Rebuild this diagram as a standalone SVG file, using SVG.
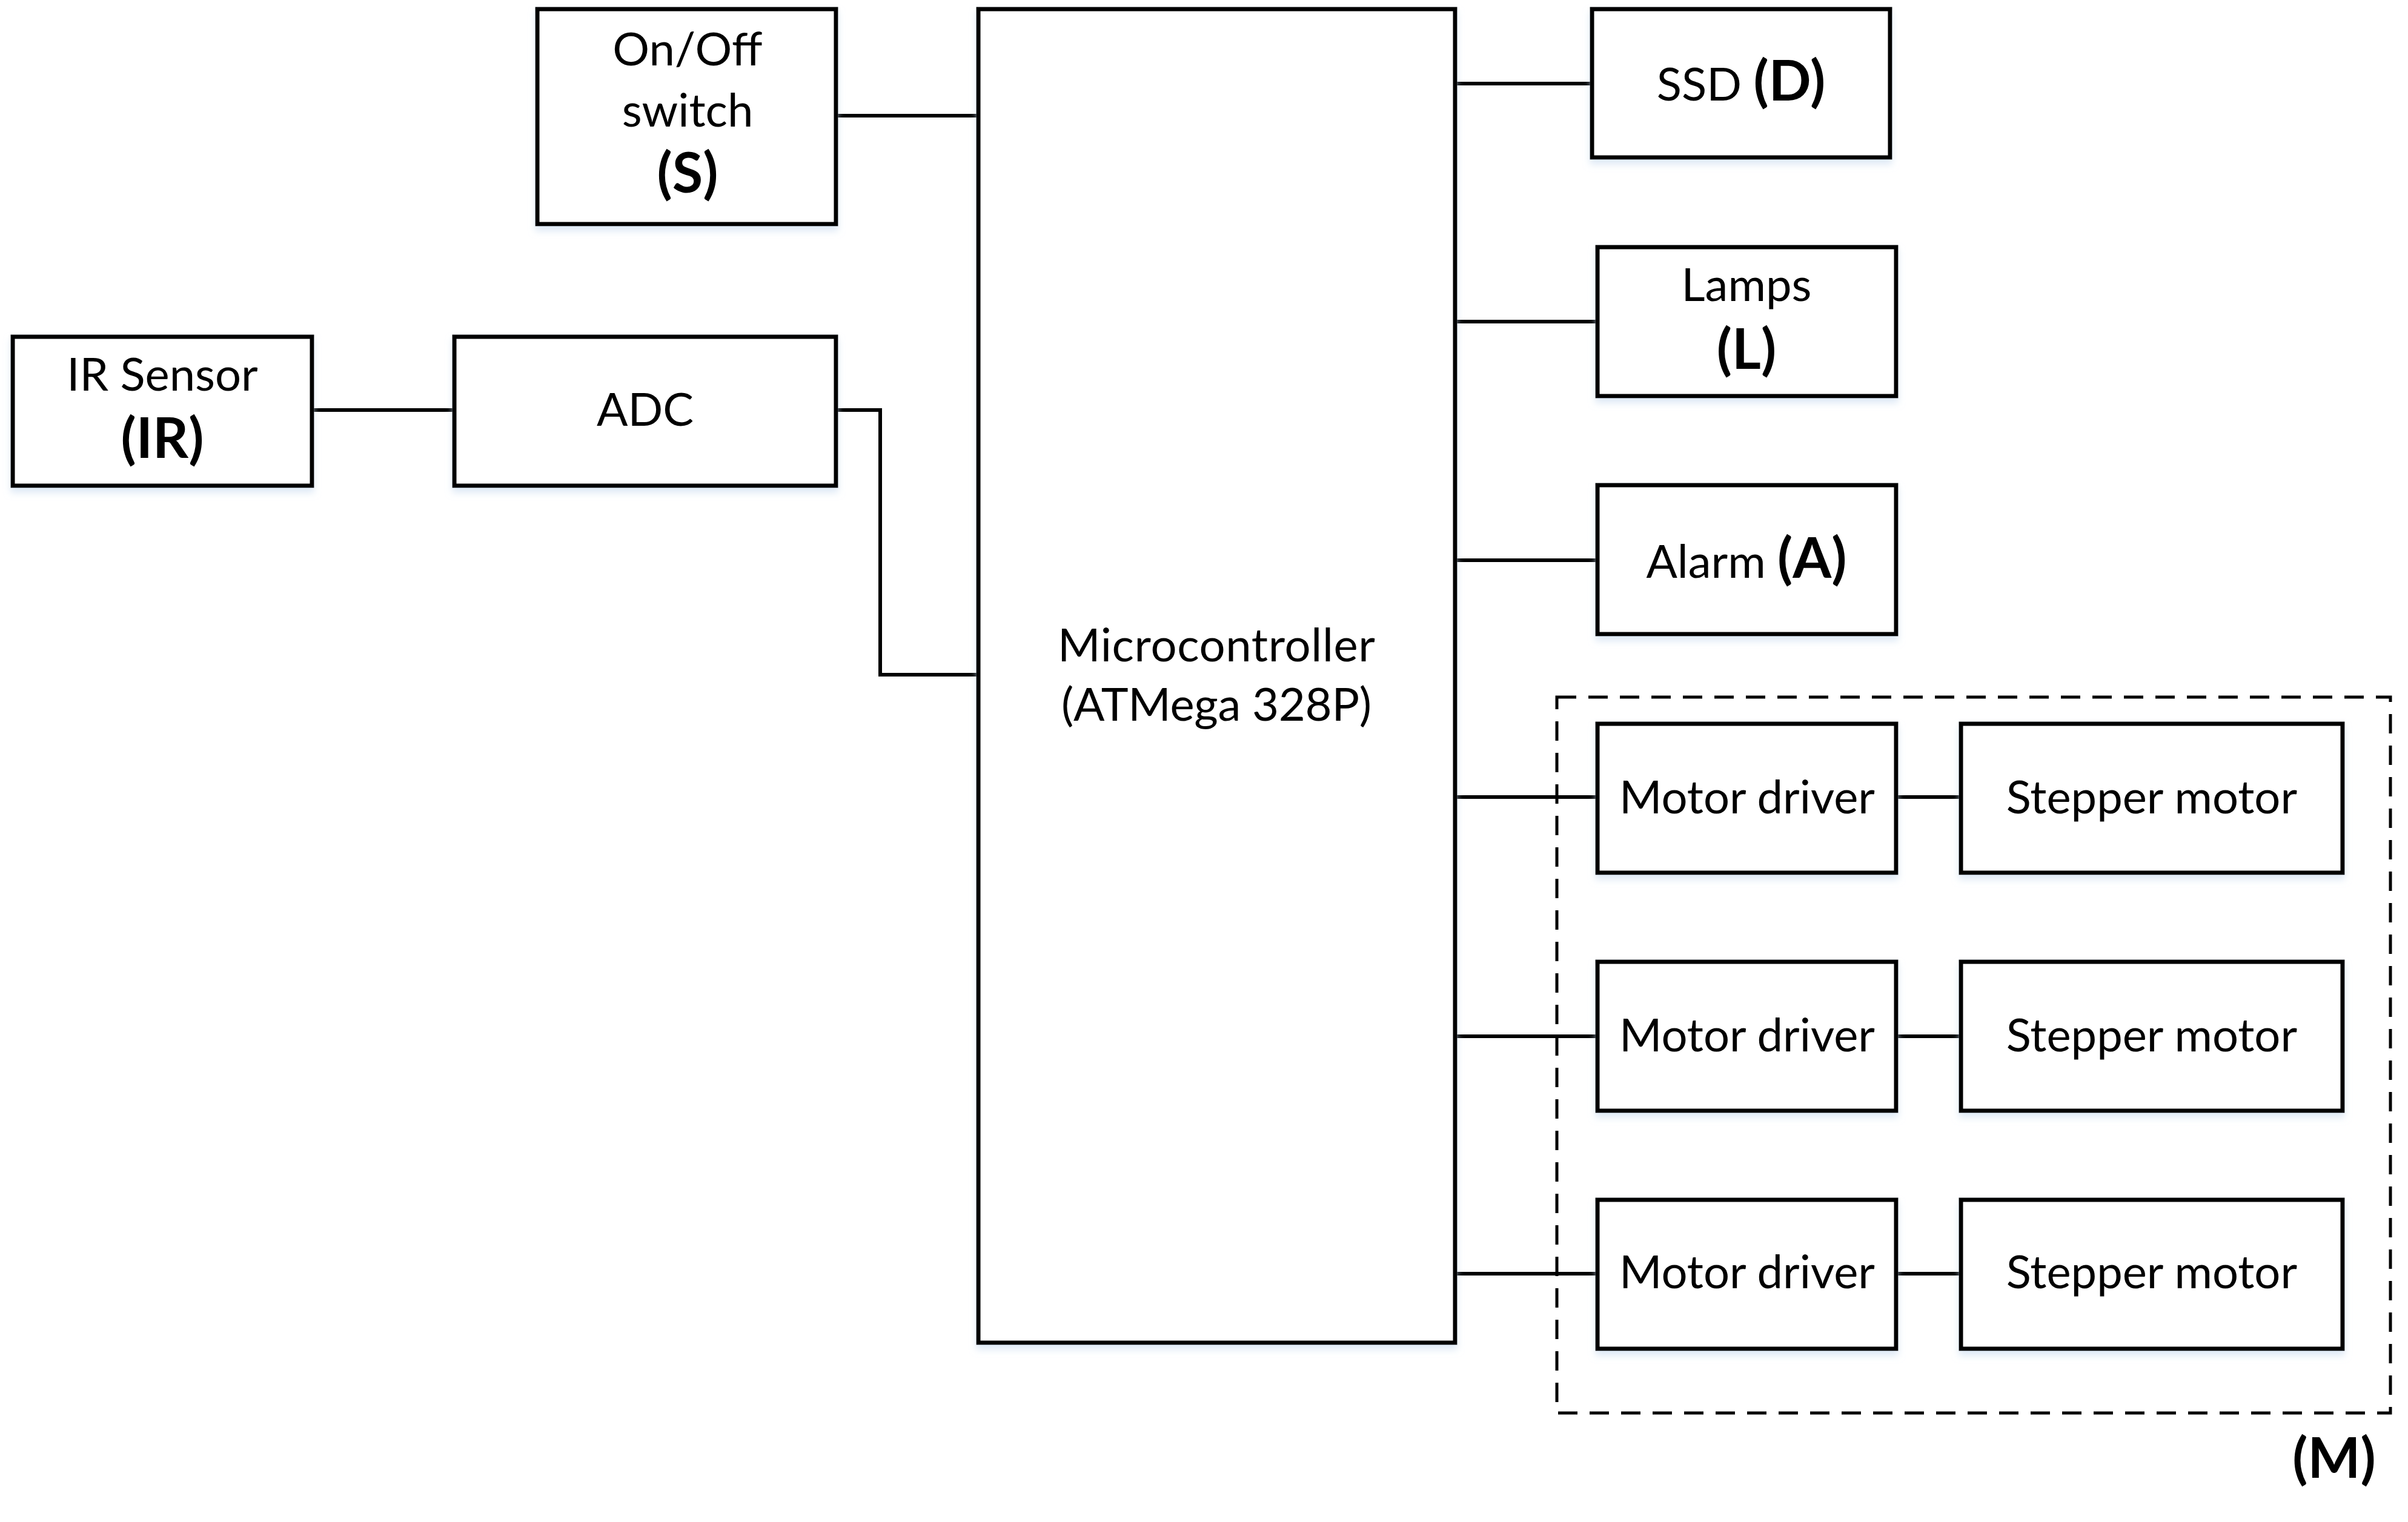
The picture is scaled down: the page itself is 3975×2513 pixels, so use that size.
<svg xmlns="http://www.w3.org/2000/svg" width="3975" height="2513" viewBox="0 0 3975 2513">
<style>
.box{fill:#fff;stroke:#000;stroke-width:7}
.wire{fill:none;stroke:#000;stroke-width:6}
.dash{fill:none;stroke:#000;stroke-width:5;stroke-dasharray:32 20}
text{font-family:Lato,"Open Sans","Liberation Sans",sans-serif;font-size:76px;fill:#000;text-anchor:middle}
.b{font-weight:bold;font-size:92px}
</style>
<defs>
<filter id="sh" x="-10%" y="-10%" width="120%" height="130%">
<feDropShadow dx="0" dy="8" stdDeviation="6" flood-color="#c9dcf0" flood-opacity="0.6"/>
</filter>
</defs>
<rect width="3975" height="2513" fill="#fff"/>
<g id="connectors">
<path class="wire" d="M1380 191H1615"/>
<path class="wire" d="M515 677H750"/>
<path class="wire" d="M1380 677H1453V1114H1615"/>
<path class="wire" d="M2402 138H2628"/>
<path class="wire" d="M2402 531H2637"/>
<path class="wire" d="M2402 925H2637"/>
<path class="wire" d="M2402 1316H2637"/>
<path class="wire" d="M2402 1711H2637"/>
<path class="wire" d="M2402 2103H2637"/>
<path class="wire" d="M3130 1316H3237"/>
<path class="wire" d="M3130 1711H3237"/>
<path class="wire" d="M3130 2103H3237"/>
</g>
<g id="group-M">
<rect class="dash" x="2570" y="1151" width="1376" height="1182"/>
<text class="b" x="3853" y="2440">(M)</text>
</g>
<g id="switch" filter="url(#sh)">
<rect class="box" x="887" y="15" width="493" height="355"/>
<text x="1135" y="108">On/Off</text>
<text x="1135" y="209">switch</text>
<text class="b" x="1135" y="318">(S)</text>
</g>
<g id="ir" filter="url(#sh)">
<rect class="box" x="21" y="556" width="494" height="246"/>
<text x="268" y="645">IR Sensor</text>
<text class="b" x="268" y="756">(IR)</text>
</g>
<g id="adc" filter="url(#sh)">
<rect class="box" x="750" y="556" width="630" height="246"/>
<text x="1065" y="703">ADC</text>
</g>
<g id="mcu" filter="url(#sh)">
<rect class="box" x="1615" y="15" width="787" height="2202"/>
<text x="2008" y="1092" font-size="70" textLength="524" lengthAdjust="spacing">Microcontroller</text>
<text x="2008" y="1190" font-size="70" textLength="512" lengthAdjust="spacing">(ATMega 328P)</text>
</g>
<g id="ssd" filter="url(#sh)">
<rect class="box" x="2628" y="15" width="492" height="245"/>
<text x="2874" y="166">SSD <tspan class="b">(D)</tspan></text>
</g>
<g id="lamps" filter="url(#sh)">
<rect class="box" x="2637" y="408" width="493" height="246"/>
<text x="2883" y="497">Lamps</text>
<text class="b" x="2883" y="609">(L)</text>
</g>
<g id="alarm" filter="url(#sh)">
<rect class="box" x="2637" y="801" width="493" height="246"/>
<text x="2883" y="954">Alarm <tspan class="b">(A)</tspan></text>
</g>
<g id="driver1" filter="url(#sh)">
<rect class="box" x="2637" y="1195" width="493" height="246"/>
<text x="2884" y="1343">Motor driver</text>
</g>
<g id="stepper1" filter="url(#sh)">
<rect class="box" x="3237" y="1195" width="630" height="246"/>
<text x="3552" y="1343">Stepper motor</text>
</g>
<g id="driver2" filter="url(#sh)">
<rect class="box" x="2637" y="1588" width="493" height="246"/>
<text x="2884" y="1736">Motor driver</text>
</g>
<g id="stepper2" filter="url(#sh)">
<rect class="box" x="3237" y="1588" width="630" height="246"/>
<text x="3552" y="1736">Stepper motor</text>
</g>
<g id="driver3" filter="url(#sh)">
<rect class="box" x="2637" y="1981" width="493" height="246"/>
<text x="2884" y="2127">Motor driver</text>
</g>
<g id="stepper3" filter="url(#sh)">
<rect class="box" x="3237" y="1981" width="630" height="246"/>
<text x="3552" y="2127">Stepper motor</text>
</g>
</svg>
